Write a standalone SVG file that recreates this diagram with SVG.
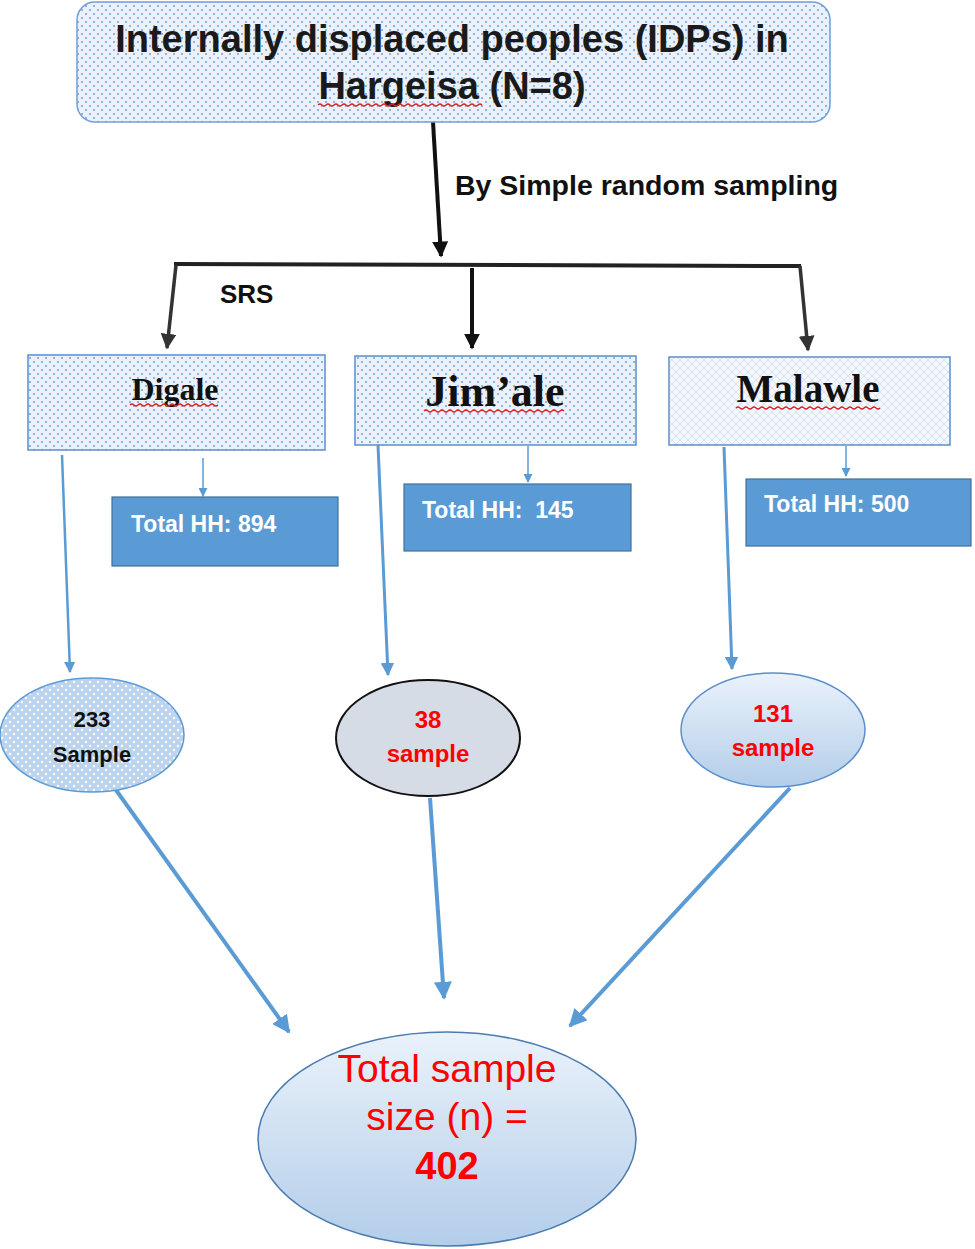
<svg xmlns="http://www.w3.org/2000/svg" width="975" height="1249" viewBox="0 0 975 1249">
<defs>
<pattern id="dots" width="8" height="8" patternUnits="userSpaceOnUse">
<rect width="8" height="8" fill="#eaf1fa"/>
<circle cx="2" cy="2" r="1" fill="#6fa0d8"/>
<circle cx="6" cy="6" r="1" fill="#6fa0d8"/>
</pattern>
<pattern id="hatch" width="8" height="8" patternUnits="userSpaceOnUse">
<rect width="8" height="8" fill="#f4f7fc"/>
<path d="M0 0L8 8M8 0L0 8" stroke="#c9d9ee" stroke-width="0.7"/>
</pattern>
<pattern id="wdots" width="8" height="8" patternUnits="userSpaceOnUse">
<rect width="8" height="8" fill="#bcd4ee"/>
<circle cx="2" cy="2" r="1.2" fill="#ffffff"/>
<circle cx="6" cy="6" r="1.2" fill="#ffffff"/>
</pattern>
<linearGradient id="grad" x1="0" y1="0" x2="0" y2="1">
<stop offset="0" stop-color="#eaf2fb"/>
<stop offset="1" stop-color="#b3cde9"/>
</linearGradient>
<marker id="ab" viewBox="0 0 10 10" refX="9" refY="5" markerWidth="4" markerHeight="4" orient="auto" markerUnits="strokeWidth">
<path d="M0 0L10 5L0 10z" fill="#111"/>
</marker>
<marker id="ag" viewBox="0 0 10 10" refX="9" refY="5" markerWidth="4.5" markerHeight="4.5" orient="auto" markerUnits="strokeWidth">
<path d="M0 0L10 5L0 10z" fill="#333"/>
</marker>
<marker id="abl" viewBox="0 0 10 10" refX="9" refY="5" markerWidth="6" markerHeight="6" orient="auto" markerUnits="strokeWidth">
<path d="M0 0L10 5L0 10z" fill="#5b9bd5"/>
</marker>
<marker id="abl2" viewBox="0 0 10 10" refX="9" refY="5" markerWidth="4.5" markerHeight="4.5" orient="auto" markerUnits="strokeWidth">
<path d="M0 0L10 5L0 10z" fill="#5b9bd5"/>
</marker>
</defs>
<style>
.sans{font-family:"Liberation Sans",Arial,sans-serif;font-weight:bold}
.serif{font-family:"Liberation Serif","Times New Roman",serif;font-weight:bold;fill:#111}
.hh{font-family:"Liberation Sans",Arial,sans-serif;font-weight:bold;font-size:23px;fill:#fff}
.hhbox{fill:#5b9bd5;stroke:#41719c;stroke-width:1.2}
.sq{fill:none;stroke:#e02020;stroke-width:1.2}
.blue{stroke:#5b9bd5;fill:none}
</style>
<rect width="975" height="1249" fill="#fff"/>

<g id="connectors">
<line x1="433" y1="122" x2="441" y2="256" stroke="#111" stroke-width="4" marker-end="url(#ab)"/>
<line x1="174" y1="264" x2="801" y2="266" stroke="#222" stroke-width="4"/>
<line x1="176" y1="265" x2="167" y2="348" stroke="#333" stroke-width="3.5" marker-end="url(#ag)"/>
<line x1="472" y1="268" x2="472" y2="348" stroke="#111" stroke-width="4" marker-end="url(#ab)"/>
<line x1="800" y1="266" x2="808" y2="350" stroke="#333" stroke-width="3.5" marker-end="url(#ag)"/>
<line x1="203" y1="458" x2="203" y2="496" class="blue" stroke-width="1.5" marker-end="url(#abl)"/>
<line x1="528" y1="446" x2="528" y2="482" class="blue" stroke-width="1.5" marker-end="url(#abl)"/>
<line x1="846" y1="446" x2="846" y2="476" class="blue" stroke-width="1.5" marker-end="url(#abl)"/>
<line x1="62" y1="455" x2="70" y2="672" class="blue" stroke-width="2.5" marker-end="url(#abl2)"/>
<line x1="378" y1="445" x2="388" y2="675" class="blue" stroke-width="3" marker-end="url(#abl2)"/>
<line x1="724" y1="447" x2="732" y2="669" class="blue" stroke-width="3" marker-end="url(#abl2)"/>
<line x1="116" y1="790" x2="289" y2="1032" class="blue" stroke-width="4" marker-end="url(#abl2)"/>
<line x1="430" y1="798" x2="444" y2="998" class="blue" stroke-width="4" marker-end="url(#abl2)"/>
<line x1="790" y1="788" x2="570" y2="1026" class="blue" stroke-width="4" marker-end="url(#abl2)"/>
</g>

<text class="sans" x="455" y="195" font-size="28.5" fill="#111">By Simple random sampling</text>
<text class="sans" x="220" y="303" font-size="26" fill="#111">SRS</text>

<g id="idps">
<rect x="77" y="2" width="753" height="120" rx="18" fill="url(#dots)" stroke="#6fa0d8" stroke-width="1.5"/>
<text class="sans" x="452" y="52" font-size="38" fill="#1a1a1a" text-anchor="middle">Internally displaced peoples (IDPs) in</text>
<text class="sans" x="452" y="99" font-size="38" fill="#1a1a1a" text-anchor="middle">Hargeisa (N=8)</text>
<path class="sq" d="M318 105q2-2 4 0t4 0t4 0t4 0t4 0t4 0t4 0t4 0t4 0t4 0t4 0t4 0t4 0t4 0t4 0t4 0t4 0t4 0t4 0t4 0t4 0t4 0t4 0t4 0t4 0t4 0t4 0t4 0t4 0t4 0t4 0t4 0t4 0t4 0t4 0t4 0t4 0t4 0t4 0t4 0t4 0"/>
</g>

<g id="digale">
<rect x="28" y="355" width="297" height="95" fill="url(#dots)" stroke="#5b8fcc" stroke-width="1.5"/>
<text class="serif" x="175" y="400" font-size="32" text-anchor="middle">Digale</text>
<path class="sq" d="M130 405q2-2 4 0t4 0t4 0t4 0t4 0t4 0t4 0t4 0t4 0t4 0t4 0t4 0t4 0t4 0t4 0t4 0t4 0t4 0t4 0t4 0t4 0t4 0"/>
</g>
<g id="jimale">
<rect x="355" y="356" width="281" height="89" fill="url(#dots)" stroke="#5b8fcc" stroke-width="1.5"/>
<text class="serif" x="495" y="406" font-size="44" text-anchor="middle">Jim’ale</text>
<path class="sq" d="M424 411q2-2 4 0t4 0t4 0t4 0t4 0t4 0t4 0t4 0t4 0t4 0t4 0t4 0t4 0t4 0t4 0t4 0t4 0t4 0t4 0t4 0t4 0t4 0t4 0t4 0t4 0t4 0t4 0t4 0t4 0t4 0t4 0t4 0t4 0t4 0t4 0"/>
</g>
<g id="malawle">
<rect x="669" y="357" width="281" height="88" fill="url(#hatch)" stroke="#5b8fcc" stroke-width="1.5"/>
<text class="serif" x="808" y="402" font-size="39" text-anchor="middle">Malawle</text>
<path class="sq" d="M736 408q2-2 4 0t4 0t4 0t4 0t4 0t4 0t4 0t4 0t4 0t4 0t4 0t4 0t4 0t4 0t4 0t4 0t4 0t4 0t4 0t4 0t4 0t4 0t4 0t4 0t4 0t4 0t4 0t4 0t4 0t4 0t4 0t4 0t4 0t4 0t4 0t4 0"/>
</g>

<g id="hh894">
<rect class="hhbox" x="112" y="497" width="226" height="69"/>
<text class="hh" x="131" y="532">Total HH: 894</text>
</g>
<g id="hh145">
<rect class="hhbox" x="404" y="484" width="227" height="67"/>
<text class="hh" x="422" y="518" xml:space="preserve">Total HH:  145</text>
</g>
<g id="hh500">
<rect class="hhbox" x="746" y="479" width="225" height="67"/>
<text class="hh" x="764" y="512">Total HH: 500</text>
</g>

<g id="s233">
<ellipse cx="92" cy="735" rx="92" ry="57" fill="url(#wdots)" stroke="#5b9bd5" stroke-width="1.5"/>
<text class="sans" x="92" y="727" font-size="22" fill="#111" text-anchor="middle">233</text>
<text class="sans" x="92" y="762" font-size="22" fill="#111" text-anchor="middle">Sample</text>
</g>
<g id="s38">
<ellipse cx="428" cy="738" rx="92" ry="58" fill="#d6dce5" stroke="#111" stroke-width="2"/>
<text class="sans" x="428" y="728" font-size="24" fill="#ff0000" text-anchor="middle">38</text>
<text class="sans" x="428" y="762" font-size="24" fill="#ff0000" text-anchor="middle">sample</text>
</g>
<g id="s131">
<ellipse cx="773" cy="730" rx="92" ry="57" fill="url(#grad)" stroke="#5b8fcc" stroke-width="1.5"/>
<text class="sans" x="773" y="722" font-size="24" fill="#ff0000" text-anchor="middle">131</text>
<text class="sans" x="773" y="756" font-size="24" fill="#ff0000" text-anchor="middle">sample</text>
</g>

<g id="total">
<ellipse cx="447" cy="1139" rx="189" ry="107" fill="url(#grad)" stroke="#4a7ab0" stroke-width="1.5"/>
<text x="447" y="1082" font-family="Liberation Sans,Arial,sans-serif" font-size="39" fill="#ff0000" text-anchor="middle">Total sample</text>
<text x="447" y="1130" font-family="Liberation Sans,Arial,sans-serif" font-size="39" fill="#ff0000" text-anchor="middle">size (n) =</text>
<text class="sans" x="447" y="1179" font-size="38" fill="#ff0000" text-anchor="middle">402</text>
</g>
</svg>
